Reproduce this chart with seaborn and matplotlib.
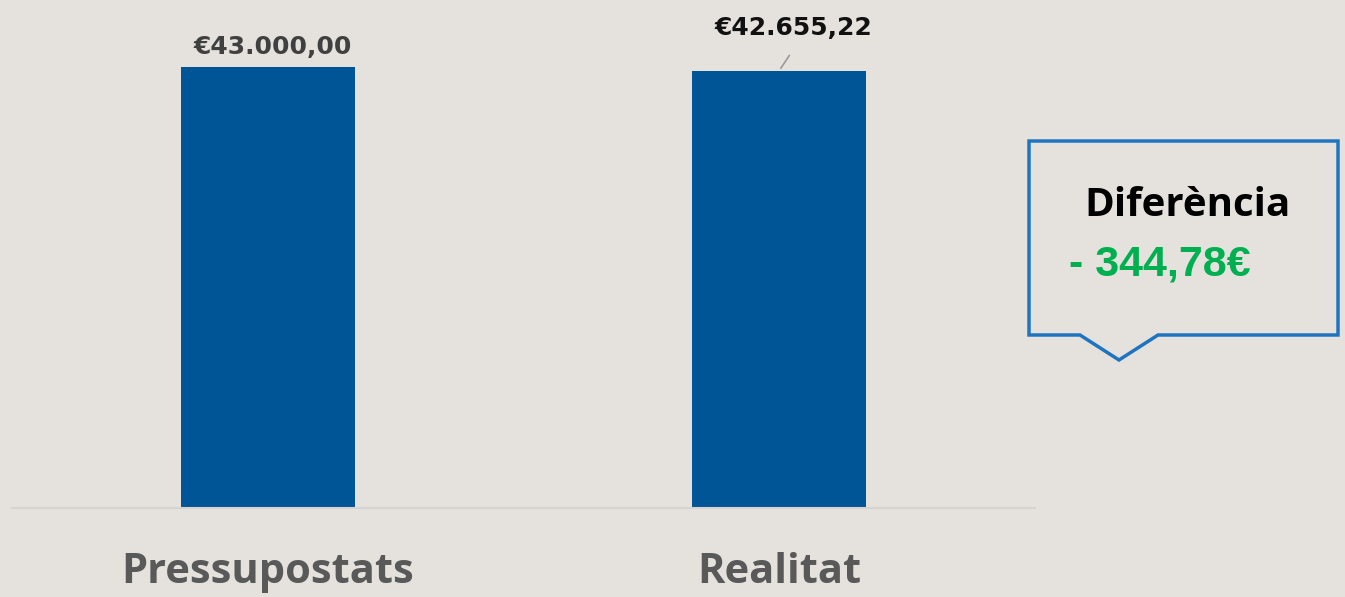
import matplotlib
matplotlib.use("Agg")
import matplotlib.pyplot as plt
from matplotlib.patches import Polygon
import seaborn as sns
import pandas as pd

categories = ["Pressupostats", "Realitat"]
values = [43000.00, 42655.22]
value_labels = ["€43.000,00", "€42.655,22"]
diff_title = "Diferència"

W, H = 1345, 597
sns.set_theme(style="white")
plt.rcParams["font.family"] = ["Open Sans", "DejaVu Sans"]

bg = "#e5e2dd"
fig = plt.figure(figsize=(W / 100, H / 100), dpi=100, facecolor=bg)
# axes placed by pixels: x 12..1035, baseline at y=508
ax = fig.add_axes([12 / W, (H - 508) / H, 1023 / W, 488 / H])
ax.set_facecolor("none")

df = pd.DataFrame({"cat": categories, "val": values})
sns.barplot(data=df, x="cat", y="val", color="#005596", width=0.34,
            saturation=1, linewidth=0, ax=ax)

ax.set_xlim(-0.5, 1.5)
ymax = values[0] * 488 / 441
ax.set_ylim(0, ymax)
ax.set_yticks([])
ax.set_xlabel("")
ax.set_ylabel("")
for s in ["top", "left", "right"]:
    ax.spines[s].set_visible(False)
ax.spines["bottom"].set_color("#d6d4d0")
ax.spines["bottom"].set_linewidth(1.5)
ax.tick_params(axis="x", length=0, pad=32, labelsize=30, labelcolor="#595959")
for t in ax.get_xticklabels():
    t.set_fontweight("bold")

# data labels
lbl_font = ["DejaVu Sans"]
ax.annotate(value_labels[0], xy=(0, values[0]), xytext=(0.01, 8),
            textcoords=("data", "offset pixels"), ha="center", va="bottom",
            fontsize=18, fontweight="bold", color="#404040", family=lbl_font)
ax.annotate(value_labels[1], xy=(1, values[1]), xytext=(1.027, ymax * 0.983),
            textcoords="data", ha="center", va="center",
            fontsize=18, fontweight="bold", color="#111111", family=lbl_font)
ax.annotate("", xy=(1, values[1]), xytext=(1.023, values[1] * 1.04),
            arrowprops=dict(arrowstyle="-", color="#9a9a9a", lw=1.2))

# callout box
pts = [(1029, 141), (1338, 141), (1338, 335), (1158, 335), (1119, 360),
       (1080, 335), (1029, 335)]
pts = [(x / W, 1 - y / H) for x, y in pts]
fig.add_artist(Polygon(pts, closed=True, fill=False, edgecolor="#1f74c0",
                       linewidth=2.5, transform=fig.transFigure))

diff = values[0] - values[1]
diff_text = "- " + f"{diff:.2f}".replace(".", ",") + "€"
fig.text(1188 / W, 1 - 206 / H, diff_title, ha="center", va="center",
         fontsize=29, fontweight="bold", color="#000000")
fig.text(1069 / W, 1 - 265 / H, diff_text, ha="left", va="center",
         fontsize=31, fontweight="bold", color="#00b050",
         family=["Liberation Sans"])

fig.savefig("out.png", dpi=100, facecolor=bg)
